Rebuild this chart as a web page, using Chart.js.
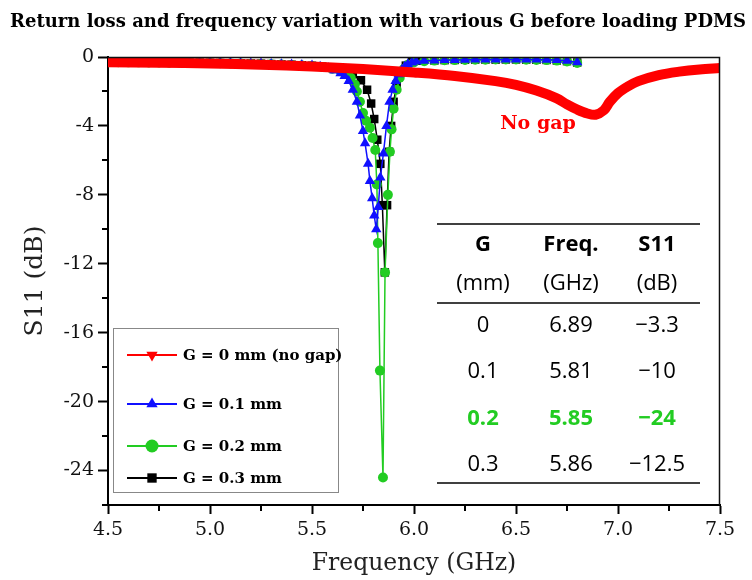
<!DOCTYPE html>
<html>
<head>
<meta charset="utf-8">
<script src="https://cdn.jsdelivr.net/npm/chart.js@4.4.1/dist/chart.umd.min.js"></script>
<style>
  html, body { margin: 0; padding: 0; background: #fff; }
</style>
</head>
<body>
<canvas id="chart" width="752" height="580"></canvas>
<script>
// S11 curves (frequency in GHz, S11 in dB)
var freqRed = [4.5, 4.75, 5.0, 5.25, 5.5, 5.75, 6.0, 6.2, 6.4, 6.5, 6.6, 6.7, 6.75, 6.8, 6.85, 6.89, 6.93, 6.96, 7.0, 7.05, 7.1, 7.2, 7.3, 7.4, 7.5];
var s11Red = [-0.30, -0.33, -0.38, -0.45, -0.55, -0.70, -0.90, -1.10, -1.40, -1.62, -1.95, -2.40, -2.75, -3.05, -3.28, -3.35, -3.10, -2.60, -2.10, -1.70, -1.40, -1.05, -0.85, -0.72, -0.64];

var freqG01 = [4.50, 4.55, 4.60, 4.65, 4.70, 4.75, 4.80, 4.85, 4.90, 4.95, 5.00, 5.05, 5.10, 5.15, 5.20, 5.25, 5.30, 5.35, 5.40, 5.45, 5.50,
  5.54, 5.58, 5.61, 5.64, 5.66, 5.68, 5.70, 5.72, 5.735, 5.75, 5.76, 5.775, 5.784, 5.795, 5.805, 5.815, 5.825, 5.835, 5.85, 5.865, 5.88, 5.895, 5.91, 5.925, 5.94, 5.955, 5.97, 5.99, 6.01,
  6.05, 6.10, 6.15, 6.20, 6.25, 6.30, 6.35, 6.40, 6.45, 6.50, 6.55, 6.60, 6.65, 6.70, 6.75, 6.80];
var s11G01 = [-0.28, -0.28, -0.29, -0.29, -0.30, -0.30, -0.31, -0.31, -0.32, -0.32, -0.33, -0.34, -0.35, -0.36, -0.37, -0.38, -0.40, -0.42, -0.44, -0.47, -0.50,
  -0.56, -0.66, -0.78, -0.95, -1.10, -1.40, -1.90, -2.60, -3.40, -4.30, -5.00, -6.20, -7.20, -8.20, -9.20, -10.0, -8.70, -7.00, -5.60, -4.00, -2.60, -1.90, -1.40, -1.00, -0.75, -0.55, -0.42, -0.32, -0.26,
  -0.22, -0.20, -0.18, -0.17, -0.16, -0.15, -0.15, -0.14, -0.14, -0.14, -0.14, -0.15, -0.16, -0.18, -0.22, -0.30];

var freqG02 = [4.50, 4.55, 4.60, 4.65, 4.70, 4.75, 4.80, 4.85, 4.90, 4.95, 5.00, 5.05, 5.10, 5.15, 5.20, 5.25, 5.30, 5.35, 5.40, 5.45, 5.50,
  5.55, 5.60, 5.64, 5.67, 5.69, 5.71, 5.72, 5.735, 5.75, 5.765, 5.784, 5.797, 5.81, 5.818, 5.823, 5.833, 5.848, 5.858, 5.872, 5.882, 5.89, 5.90, 5.915, 5.93, 5.95, 5.97, 6.00,
  6.05, 6.10, 6.15, 6.20, 6.25, 6.30, 6.35, 6.40, 6.45, 6.50, 6.55, 6.60, 6.65, 6.70, 6.75, 6.80];
var s11G02 = [-0.30, -0.30, -0.31, -0.31, -0.32, -0.32, -0.33, -0.33, -0.34, -0.34, -0.35, -0.36, -0.37, -0.38, -0.39, -0.40, -0.42, -0.44, -0.46, -0.49, -0.52,
  -0.58, -0.68, -0.82, -0.98, -1.20, -1.60, -2.00, -2.60, -3.25, -3.70, -4.10, -4.70, -5.40, -7.40, -10.8, -18.2, -24.4, -12.5, -8.0, -5.5, -4.2, -3.0, -1.9, -1.2, -0.70, -0.45, -0.30,
  -0.24, -0.21, -0.19, -0.18, -0.17, -0.16, -0.16, -0.15, -0.15, -0.15, -0.16, -0.17, -0.18, -0.21, -0.26, -0.35];

var freqG03 = [4.50, 4.55, 4.60, 4.65, 4.70, 4.75, 4.80, 4.85, 4.90, 4.95, 5.00, 5.05, 5.10, 5.15, 5.20, 5.25, 5.30, 5.35, 5.40, 5.45, 5.50,
  5.55, 5.60, 5.65, 5.70, 5.74, 5.77, 5.79, 5.805, 5.82, 5.835, 5.845, 5.857, 5.868, 5.878, 5.888, 5.90, 5.915, 5.935, 5.96, 5.99, 6.03,
  6.10, 6.15, 6.20, 6.25, 6.30, 6.35, 6.40, 6.45, 6.50, 6.55, 6.60, 6.65, 6.70, 6.75, 6.80];
var s11G03 = [-0.29, -0.29, -0.30, -0.30, -0.31, -0.31, -0.32, -0.32, -0.33, -0.33, -0.34, -0.35, -0.36, -0.37, -0.38, -0.39, -0.41, -0.43, -0.45, -0.48, -0.51,
  -0.56, -0.64, -0.78, -1.0, -1.35, -1.9, -2.7, -3.6, -4.8, -6.2, -8.6, -12.5, -8.6, -5.5, -4.0, -2.6, -1.6, -0.9, -0.5, -0.3, -0.22,
  -0.20, -0.18, -0.17, -0.16, -0.15, -0.15, -0.15, -0.14, -0.14, -0.15, -0.16, -0.17, -0.20, -0.24, -0.32];

var seriesNames = ['G = 0 mm (no gap)', 'G = 0.1 mm', 'G = 0.2 mm', 'G = 0.3 mm'];

// axis ticks
var xTicks = [4.5, 5.0, 5.5, 6.0, 6.5, 7.0, 7.5];
var xMinor = [4.75, 5.25, 5.75, 6.25, 6.75, 7.25];
var yTicks = [0, -4, -8, -12, -16, -20, -24];
var yMinor = [-2, -6, -10, -14, -18, -22, -26];

// summary table
var tableG = ['0', '0.1', '0.2', '0.3'];
var tableFreq = ['6.89', '5.81', '5.85', '5.86'];
var tableS11 = ['\u22123.3', '\u221210', '\u221224', '\u221212.5'];

var RED = '#ff0000', BLUE = '#1010ff', GREEN = '#22cc22', BLACK = '#000000';
var SERIF = '"DejaVu Serif", "Liberation Serif", serif';
var SANS = '"Open Sans", "Noto Sans", sans-serif';

function points(xs, ys) {
  return xs.map(function(x, i) { return {x: x, y: ys[i]}; });
}

// draw a legend/marker symbol
function marker(ctx, style, x, y, r, color) {
  ctx.save();
  ctx.fillStyle = color;
  ctx.beginPath();
  if (style === 'down') {
    ctx.moveTo(x - r * 0.87, y - r * 0.5);
    ctx.lineTo(x + r * 0.87, y - r * 0.5);
    ctx.lineTo(x, y + r);
  } else if (style === 'up') {
    ctx.moveTo(x - r * 0.87, y + r * 0.5);
    ctx.lineTo(x + r * 0.87, y + r * 0.5);
    ctx.lineTo(x, y - r);
  } else if (style === 'circle') {
    ctx.arc(x, y, r, 0, Math.PI * 2);
  } else {
    ctx.rect(x - r * 0.72, y - r * 0.72, r * 1.44, r * 1.44);
  }
  ctx.closePath();
  ctx.fill();
  ctx.restore();
}

var decor = {
  id: 'decor',
  afterDraw: function(chart) {
    var ctx = chart.ctx;
    var area = chart.chartArea;
    var xs = chart.scales.x, ys = chart.scales.y;

    ctx.save();

    // title, fitted to the figure width
    var title = 'Return loss and frequency variation with various G before loading PDMS';
    var size = 18;
    ctx.font = 'bold ' + size + 'px ' + SERIF;
    var w = ctx.measureText(title).width;
    size = size * 736 / w;
    ctx.font = 'bold ' + size.toFixed(2) + 'px ' + SERIF;
    ctx.fillStyle = '#000';
    ctx.textAlign = 'center';
    ctx.textBaseline = 'middle';
    ctx.fillText(title, 378, 22);

    // top and right frame
    ctx.strokeStyle = '#111';
    ctx.lineWidth = 1.5;
    ctx.beginPath();
    ctx.moveTo(area.left, area.top + 0.5);
    ctx.lineTo(area.right - 0.5, area.top + 0.5);
    ctx.lineTo(area.right - 0.5, area.bottom);
    ctx.stroke();

    // minor ticks
    ctx.strokeStyle = '#000';
    ctx.lineWidth = 2;
    ctx.beginPath();
    xMinor.forEach(function(v) {
      var px = Math.round(xs.getPixelForValue(v));
      ctx.moveTo(px, area.bottom);
      ctx.lineTo(px, area.bottom + 6);
    });
    yMinor.forEach(function(v) {
      var py = Math.round(ys.getPixelForValue(v));
      ctx.moveTo(area.left, py);
      ctx.lineTo(area.left - 6, py);
    });
    ctx.stroke();

    // annotation
    ctx.font = 'bold 19px ' + SERIF;
    ctx.fillStyle = RED;
    ctx.textAlign = 'center';
    ctx.fillText('No gap', 538, 124);

    // legend box
    var lx = 113, ly = 328, lw = 225, lh = 164;
    ctx.fillStyle = '#fff';
    ctx.fillRect(lx, ly, lw, lh);
    ctx.strokeStyle = '#888';
    ctx.lineWidth = 1;
    ctx.strokeRect(lx + 0.5, ly + 0.5, lw, lh);
    var rowsY = [355, 404, 446, 478];
    var colors = [RED, BLUE, GREEN, BLACK];
    var styles = ['down', 'up', 'circle', 'rect'];
    ctx.font = 'bold 15px ' + SERIF;
    ctx.textAlign = 'left';
    ctx.textBaseline = 'middle';
    rowsY.forEach(function(y, i) {
      ctx.strokeStyle = colors[i];
      ctx.lineWidth = 2;
      ctx.beginPath();
      ctx.moveTo(127, y);
      ctx.lineTo(177, y);
      ctx.stroke();
      marker(ctx, styles[i], 152, y, 6.5, colors[i]);
      ctx.fillStyle = '#000';
      ctx.fillText(seriesNames[i], 183, y + 1);
    });

    // summary table
    var colX = [483, 571, 657];
    ctx.strokeStyle = '#000';
    ctx.lineWidth = 1.3;
    [224, 303, 483].forEach(function(y) {
      ctx.beginPath();
      ctx.moveTo(437, y);
      ctx.lineTo(700, y);
      ctx.stroke();
    });
    ctx.textAlign = 'center';
    ctx.fillStyle = '#000';
    ctx.font = 'bold 22px ' + SANS;
    ['G', 'Freq.', 'S11'].forEach(function(t, i) { ctx.fillText(t, colX[i], 245); });
    ctx.font = '22px ' + SANS;
    ['(mm)', '(GHz)', '(dB)'].forEach(function(t, i) { ctx.fillText(t, colX[i], 284); });
    var rowY = [326, 372, 419, 465];
    tableG.forEach(function(g, i) {
      var hot = g === '0.2';
      ctx.font = (hot ? 'bold ' : '') + '22px ' + SANS;
      ctx.fillStyle = hot ? GREEN : '#000';
      ctx.fillText(g, colX[0], rowY[i]);
      ctx.fillText(tableFreq[i], colX[1], rowY[i]);
      ctx.fillText(tableS11[i], colX[2], rowY[i]);
    });

    ctx.restore();
  }
};

var chart = new Chart(document.getElementById('chart'), {
  type: 'scatter',
  data: {
    datasets: [
      // red band sits on top of the other curves
      {label: seriesNames[0], data: points(freqRed, s11Red), order: -1, showLine: true, borderColor: RED, backgroundColor: RED,
        borderWidth: 10, pointRadius: 0, tension: 0.35, clip: 0},
      {label: seriesNames[1], data: points(freqG01, s11G01), order: 0, showLine: true, borderColor: BLUE, backgroundColor: BLUE,
        borderWidth: 1.5, pointStyle: 'triangle', pointRadius: 6, pointBorderWidth: 0, clip: 0},
      {label: seriesNames[2], data: points(freqG02, s11G02), order: 1, showLine: true, borderColor: GREEN, backgroundColor: GREEN,
        borderWidth: 1.5, pointStyle: 'circle', pointRadius: 5, pointBorderWidth: 0, clip: 0},
      {label: seriesNames[3], data: points(freqG03, s11G03), order: 2, showLine: true, borderColor: BLACK, backgroundColor: BLACK,
        borderWidth: 1.5, pointStyle: 'rect', pointRadius: 6, pointBorderWidth: 0, clip: 0}
    ]
  },
  options: {
    responsive: false,
    animation: false,
    devicePixelRatio: 1,
    layout: {padding: {left: 0, top: 57, right: 32, bottom: 0}},
    plugins: {legend: {display: false}, tooltip: {enabled: false}},
    scales: {
      x: {
        type: 'linear', min: 4.5, max: 7.5,
        afterBuildTicks: function(s) { s.ticks = xTicks.map(function(v) { return {value: v}; }); },
        afterFit: function(s) { s.height = 75; },
        ticks: {
          callback: function(v) { return v.toFixed(1); },
          font: {family: SERIF, size: 19}, color: '#111', padding: 5, maxRotation: 0
        },
        grid: {drawOnChartArea: false, tickLength: 9, tickColor: '#000', tickWidth: 2},
        border: {color: '#000', width: 2},
        title: {display: true, text: 'Frequency (GHz)', font: {family: SERIF, size: 23.5}, color: '#222', padding: {top: 0, bottom: 2}}
      },
      y: {
        type: 'linear', min: -26, max: 0,
        afterBuildTicks: function(s) { s.ticks = yTicks.map(function(v) { return {value: v}; }); },
        afterFit: function(s) { s.width = 108; },
        ticks: {
          callback: function(v) { return String(v); },
          font: {family: SERIF, size: 19}, color: '#111', padding: 4
        },
        grid: {drawOnChartArea: false, tickLength: 10, tickColor: '#000', tickWidth: 2},
        border: {color: '#000', width: 2},
        title: {display: true, text: 'S11 (dB)', font: {family: SERIF, size: 25}, color: '#222', padding: {top: 20, bottom: 0}}
      }
    }
  },
  plugins: [decor]
});
</script>
</body>
</html>
